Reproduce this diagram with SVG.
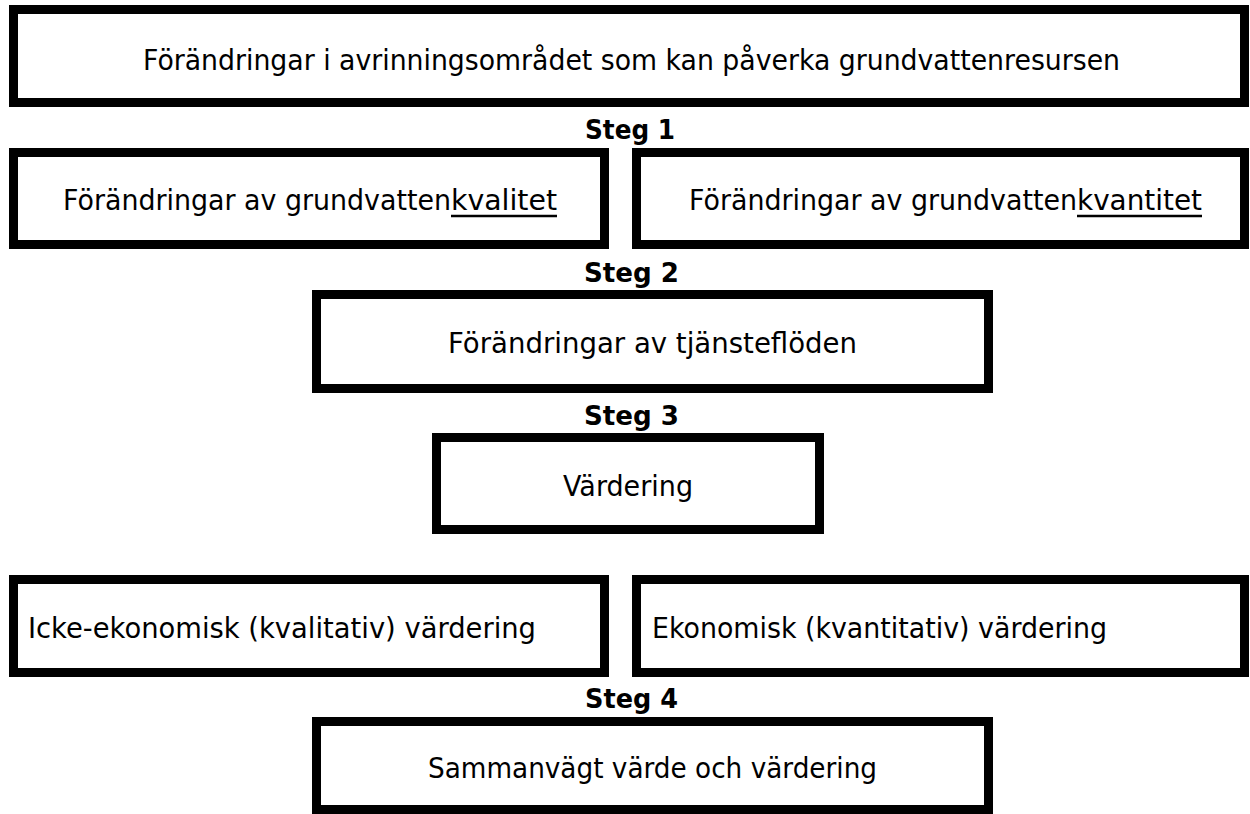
<svg xmlns="http://www.w3.org/2000/svg" width="1250" height="814" viewBox="0 0 1250 814">
<style>
.box{fill:#fff;stroke:#000;stroke-width:9}
.t{font-family:"DejaVu Sans","Liberation Sans",sans-serif;font-size:28px;fill:#000}
.s{font-family:"DejaVu Sans","Liberation Sans",sans-serif;font-size:26px;font-weight:bold;fill:#000}
.u{stroke:#000;stroke-width:2.5}
</style>
<rect width="1250" height="814" fill="#fff"/>
<g id="top">
<rect class="box" x="13.5" y="9.5" width="1231" height="93"/>
<text class="t" x="143" y="70" textLength="977" lengthAdjust="spacingAndGlyphs">Förändringar i avrinningsområdet som kan påverka grundvattenresursen</text>
</g>
<text id="steg1" class="s" x="585" y="139" textLength="90" lengthAdjust="spacingAndGlyphs">Steg 1</text>
<g id="kvalitet">
<rect class="box" x="13.5" y="152.5" width="591" height="92"/>
<text class="t" y="210"><tspan x="63" textLength="388" lengthAdjust="spacingAndGlyphs">Förändringar av grundvatten</tspan><tspan x="451" textLength="106" lengthAdjust="spacingAndGlyphs">kvalitet</tspan></text>
<line class="u" x1="451" y1="216" x2="557" y2="216"/>
</g>
<g id="kvantitet">
<rect class="box" x="636.5" y="152.5" width="608" height="92"/>
<text class="t" y="210"><tspan x="689" textLength="388" lengthAdjust="spacingAndGlyphs">Förändringar av grundvatten</tspan><tspan x="1077" textLength="125" lengthAdjust="spacingAndGlyphs">kvantitet</tspan></text>
<line class="u" x1="1077" y1="216" x2="1202" y2="216"/>
</g>
<text id="steg2" class="s" x="584" y="282" textLength="95" lengthAdjust="spacingAndGlyphs">Steg 2</text>
<g id="tjansteflоden">
<rect class="box" x="316.5" y="294.5" width="672" height="94"/>
<text class="t" x="448" y="353" textLength="409" lengthAdjust="spacingAndGlyphs">Förändringar av tjänsteflöden</text>
</g>
<text id="steg3" class="s" x="584" y="425" textLength="95" lengthAdjust="spacingAndGlyphs">Steg 3</text>
<g id="vardering">
<rect class="box" x="436.5" y="437.5" width="383" height="92"/>
<text class="t" x="563" y="496" textLength="130" lengthAdjust="spacingAndGlyphs">Värdering</text>
</g>
<g id="icke-ekonomisk">
<rect class="box" x="13.5" y="579.5" width="591" height="93"/>
<text class="t" x="28" y="638" textLength="508" lengthAdjust="spacingAndGlyphs">Icke-ekonomisk (kvalitativ) värdering</text>
</g>
<g id="ekonomisk">
<rect class="box" x="636.5" y="579.5" width="608" height="93"/>
<text class="t" x="652" y="638" textLength="455" lengthAdjust="spacingAndGlyphs">Ekonomisk (kvantitativ) värdering</text>
</g>
<text id="steg4" class="s" x="585" y="708" textLength="93" lengthAdjust="spacingAndGlyphs">Steg 4</text>
<g id="sammanvagt">
<rect class="box" x="316.5" y="721.5" width="672" height="88"/>
<text class="t" x="428" y="778" textLength="449" lengthAdjust="spacingAndGlyphs">Sammanvägt värde och värdering</text>
</g>
</svg>
